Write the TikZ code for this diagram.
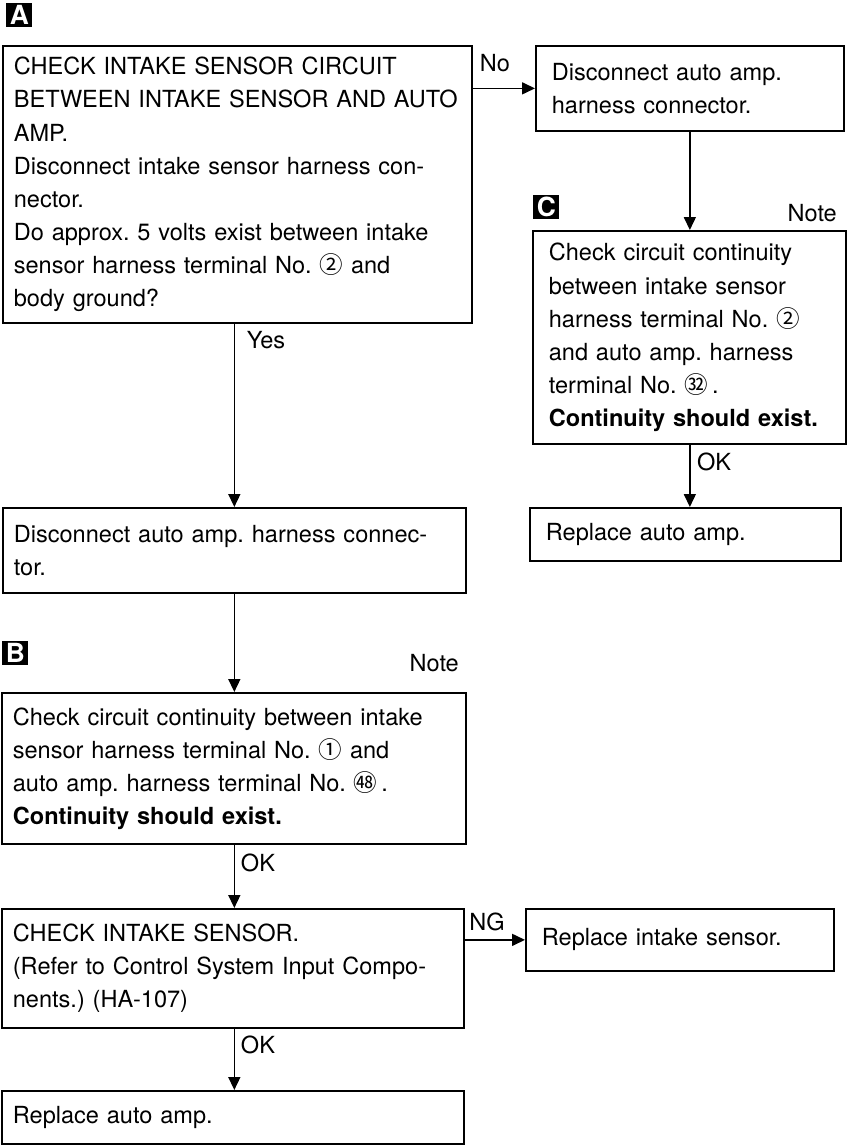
\documentclass[tikz,border=0pt]{standalone}
\usepackage{fontspec}
\setmainfont{TeX Gyre Heros}
\newfontfamily\cjk{Noto Sans CJK JP}
\usetikzlibrary{arrows.meta}
\frenchspacing

\begin{document}
\begin{tikzpicture}[x=0.02cm, y=-0.02cm,
    font=\fontsize{13.4pt}{18.8pt}\selectfont,
    box/.style={draw, line width=1pt, anchor=north west, align=left, inner xsep=0.22cm, inner ysep=0pt},
    rbox/.style={box, inner xsep=0.32cm},
    marker/.style={fill=black, text=white, anchor=north west, inner sep=0pt, minimum width=0.52cm, minimum height=0.48cm, font=\fontsize{15pt}{15pt}\selectfont\bfseries},
    arr/.style={-{Triangle[length=0.26cm, width=0.24cm]}, line width=0.9pt}]
            \useasboundingbox (0,0) rectangle (854,1145);
            % Section markers
            \node[marker] (markA) at (6,3) {A};
            \node[marker] (markC) at (533,195) {C};
            \node[marker] (markB) at (2,641) {B};
            % Left column
            \node[box, minimum width=9.38cm, text width=8.94cm, minimum height=5.54cm] (chkCircuit) at (2,45)
              {CHECK INTAKE SENSOR CIRCUIT\\
               BETWEEN INTAKE SENSOR AND AUTO\\
               AMP.\\
               Disconnect intake sensor harness con-\\
               nector.\\
               Do approx. 5 volts exist between intake\\
               sensor harness terminal No. {\cjk ②} and\\
               body ground?};
            \node[box, minimum width=9.26cm, text width=8.82cm, minimum height=1.7cm] (discAmp) at (2,507)
              {Disconnect auto amp. harness connec-\\tor.};
            \node[box, minimum width=9.28cm, text width=8.84cm, minimum height=3.02cm] (chkContB) at (1,692)
              {Check circuit continuity between intake\\
               sensor harness terminal No. {\cjk ①} and\\
               auto amp. harness terminal No. {\cjk ㊽}\,.\\
               \textbf{Continuity should exist.}};
            \node[box, minimum width=9.24cm, text width=8.8cm, minimum height=2.38cm] (chkSensor) at (1,908)
              {CHECK INTAKE SENSOR.\\
               (Refer to Control System Input Compo-\\
               nents.) (HA-107)};
            \node[box, minimum width=9.24cm, text width=8.8cm, minimum height=1.06cm] (replAmp) at (1,1090)
              {Replace auto amp.};
            % Right column
            \node[rbox, minimum width=6.16cm, text width=5.52cm, minimum height=1.7cm] (discAmpR) at (535,45)
              {Disconnect auto amp.\\harness connector.};
            \node[rbox, minimum width=6.26cm, text width=5.62cm, minimum height=4.26cm] (chkContC) at (532,230)
              {Check circuit continuity\\
               between intake sensor\\
               harness terminal No. {\cjk ②}\\
               and auto amp. harness\\
               terminal No. {\cjk ㉜}\,.\\
               \textbf{Continuity should exist.}};
            \node[rbox, minimum width=6.22cm, text width=5.58cm, minimum height=1.06cm] (replAmpR) at (529,507)
              {Replace auto amp.};
            \node[rbox, minimum width=6.16cm, text width=5.52cm, minimum height=1.24cm] (replSensor) at (525,908)
              {Replace intake sensor.};
            % Notes and branch labels
            \node[anchor=east] (noteC) at (843,213) {Note};
            \node[anchor=east] (noteB) at (465,663) {Note};
            \node (lblNo) at (495,63) {No};
            \node (lblYes) at (266,340) {Yes};
            \node (lblOkC) at (714,462) {OK};
            \node (lblOkB) at (258,863) {OK};
            \node (lblNg) at (487,922) {NG};
            \node (lblOkS) at (258,1045) {OK};
            % Draw connectors
            \draw[arr] (discAmpR.west -| chkCircuit.east) -- (discAmpR.west);
            \draw[arr] (discAmpR.south) -- (discAmpR.south |- chkContC.north);
            \draw[arr] (chkContC.south -| discAmpR.south) -- (replAmpR.north -| discAmpR.south);
            \draw[arr] (chkCircuit.south -| discAmp.north) -- (discAmp.north);
            \draw[arr] (discAmp.south) -- (discAmp.south |- chkContB.north);
            \draw[arr] (chkContB.south -| discAmp.south) -- (chkSensor.north -| discAmp.south);
            \draw[arr] (replSensor.west -| chkSensor.east) -- (replSensor.west);
            \draw[arr] (chkSensor.south -| discAmp.south) -- (replAmp.north -| discAmp.south);
          \end{tikzpicture}
\end{document}
